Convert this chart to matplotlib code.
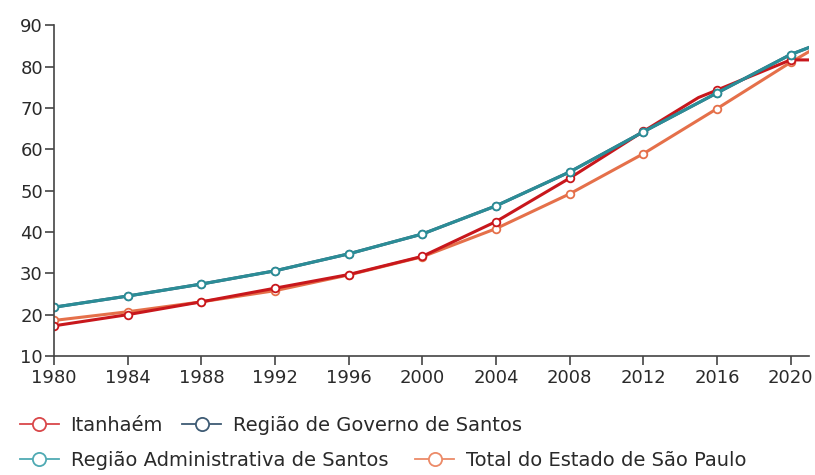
import matplotlib.pyplot as plt
from matplotlib.lines import Line2D

# dados
anos = [1980, 1984, 1988, 1992, 1996, 2000, 2004, 2008, 2012, 2016, 2020, 2021]
anos_itanhaem = [1980, 1984, 1988, 1992, 1996, 2000, 2004, 2008, 2012, 2015, 2016, 2020, 2021]
itanhaem = [17.3, 20.0, 23.1, 26.4, 29.7, 34.1, 42.5, 53.0, 64.3, 72.5, 74.3, 81.6, 81.6]
governo = [21.8, 24.5, 27.4, 30.6, 34.7, 39.5, 46.3, 54.5, 64.2, 73.6, 82.9, 84.6]
administrativa = [21.8, 24.5, 27.4, 30.6, 34.7, 39.5, 46.3, 54.5, 64.2, 73.6, 82.9, 84.6]
total_sp = [18.6, 20.7, 23.1, 25.8, 29.6, 34.0, 40.8, 49.2, 58.9, 69.8, 81.0, 83.6]
xticks = [1980, 1984, 1988, 1992, 1996, 2000, 2004, 2008, 2012, 2016, 2020]
nomes = ['Itanhaém', 'Região de Governo de Santos',
         'Região Administrativa de Santos', 'Total do Estado de São Paulo']

c_red = '#c8171c'
c_gov = '#3e5b74'
c_adm = '#2b8d97'
c_sp = '#e5704a'

fig = plt.figure(figsize=(8.15, 4.75), dpi=100)
ax = fig.add_axes([0.0663, 0.2505, 0.9263, 0.6965])

mk = dict(marker='o', markersize=5.5, markerfacecolor='white', markeredgewidth=1.3, lw=2.2)
idx = [i for i, a in enumerate(anos) if a in xticks]
idx_it = [i for i, a in enumerate(anos_itanhaem) if a in xticks]
ax.plot(anos, total_sp, color=c_sp, markevery=idx, markeredgecolor=c_sp, **mk)
ax.plot(anos_itanhaem, itanhaem, color=c_red, markevery=idx_it, markeredgecolor=c_red, **mk)
ax.plot(anos, governo, color=c_gov, markevery=idx, markeredgecolor=c_gov, **mk)
ax.plot(anos, administrativa, color=c_adm, markevery=idx, markeredgecolor=c_adm, **mk)

ax.set_xlim(1980, 2021)
ax.set_ylim(10, 90)
ax.set_xticks(xticks)
ax.set_yticks(range(10, 91, 10))
for s in ['top', 'right']:
    ax.spines[s].set_visible(False)
for s in ['left', 'bottom']:
    ax.spines[s].set_color('#444444')
    ax.spines[s].set_linewidth(1.2)
ax.tick_params(direction='out', length=6.5, width=1.2, color='#444444', labelsize=13, labelcolor='#2a2a2a')
ax.tick_params(axis='x', pad=3)
ax.tick_params(axis='y', pad=1.5)

def handle(c):
    return Line2D([], [], color=c, lw=1.3, marker='o', markersize=9.5,
                  markerfacecolor='white', markeredgecolor=c, markeredgewidth=1.3)

leg_kw = dict(frameon=False, fontsize=14, handlelength=2.0, handletextpad=0.6,
              ncol=2, borderaxespad=0, borderpad=0, labelcolor='#2a2a2a')
fig.legend([handle('#d9474a'), handle(c_gov)], nomes[:2], columnspacing=1.0,
           loc='center left', bbox_to_anchor=(0.0245, 0.104), **leg_kw)
fig.legend([handle('#4faab3'), handle('#ec8a68')], nomes[2:], columnspacing=1.4,
           loc='center left', bbox_to_anchor=(0.0245, 0.031), **leg_kw)

fig.savefig('out.png', dpi=100)
